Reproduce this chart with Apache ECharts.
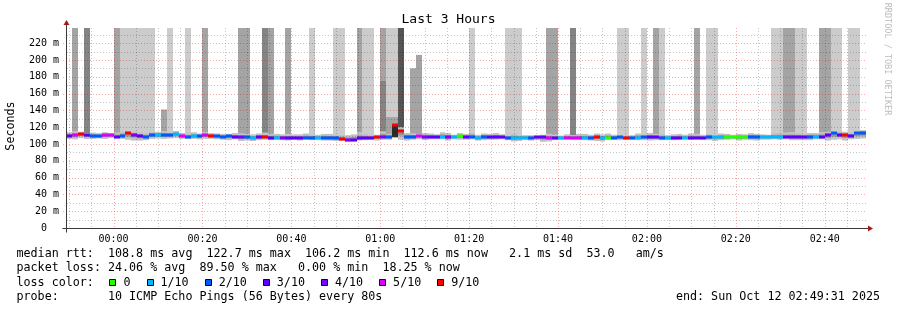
<!DOCTYPE html>
<html><head><meta charset="utf-8">
<script src="https://cdn.jsdelivr.net/npm/echarts@6/dist/echarts.min.js"></script>
<style>html,body{margin:0;padding:0;background:#fff}#c{width:897px;height:310px}</style>
</head><body><div id="c"></div>
<script>
// ---------- data ----------
const title = 'Last 3 Hours';
const yName = 'Seconds';
const tickLabels = ['00:00','00:20','00:40','01:00','01:20','01:40','02:00','02:20','02:40'];
const tickMinutes = [20, 40, 60, 80, 100, 120, 140, 160, 180]; // minutes after 23:40
const rangeStartMin = 9 + 31 / 60;   // 23:49:31
const rangeEndMin = rangeStartMin + 180; // 02:49:31
const firstStepMin = 9 + 20 / 60;    // first 80 s step start
const stepMin = 80 / 60;
const yMax = 238;

// median rtt per step (ms)
const median = [
  110, 110.5, 112, 110.2, 109.2, 109, 110.5, 110.3, 108.8, 109.6, 112.5, 111.2, 109.6, 108.6, 110.4,
  111, 110.5, 110.6, 111.5, 109.6, 108.2, 109, 109.2, 110.5, 110, 109, 108.8, 109, 108.4, 108, 108.2, 107.4, 108,
  108, 107.6, 107.4, 107.2, 107, 107.1, 106.8, 107.2, 107.6, 107.4, 107.5, 107, 106.8, 106, 105, 105.2, 106.6, 107, 107.2, 108, 108.6, 108.4, 122.5, 115, 108.7, 108.6, 109.5, 108.7, 108.4, 108.5, 108.8, 108.4, 108.6, 109, 108.5,
  108.7, 107.2, 108.5, 108, 108.2, 107.9, 107.6, 107.3, 107.5, 107.4, 107.6, 107.8, 107.7, 107.4, 107.6, 107.2, 107.5, 107.6, 107.4, 107.2, 107.6, 107.8, 107.2, 107.5, 107.6, 107.7, 107.4, 107.3, 107.6, 107.8, 107.9, 107.8, 107.5,
  107, 107.4, 107.6, 107.3, 107.5, 107.6, 107.4, 108, 108.1, 107.8, 107.7, 108, 108.2, 108.1, 108.3, 108.5, 108.4, 108.6, 108.5, 108.4, 108.6, 108.3, 108.6, 108.4, 108.7, 108.8, 108.6, 110.5, 112.5, 111, 110.4, 109.5, 112.5, 113.2
];
// lost pings (of 10) per step
const loss = [
  3, 5, 9, 3, 2, 2, 5, 5, 3, 2, 9, 4, 3, 2, 2,
  1, 2, 2, 1, 5, 2, 1, 2, 5, 9, 2, 2, 2, 3, 4, 2, 1, 3,
  9, 3, 1, 4, 3, 3, 3, 2, 2, 1, 2, 2, 2, 9, 4, 3, 3, 3, 3, 9, 4, 2, 9, 9, 2, 2, 5, 4, 3, 3, 1, 4, 1, 0, 3,
  2, 1, 2, 3, 3, 3, 2, 1, 1, 1, 2, 3, 3, 5, 3, 1, 5, 5, 5, 1, 2, 9, 1, 0, 2, 2, 9, 2, 1, 2, 3, 3, 2,
  1, 3, 3, 1, 3, 3, 3, 2, 1, 1, 0, 0, 0, 0, 2, 2, 1, 1, 1, 1, 3, 3, 3, 3, 2, 1, 3, 3, 2, 3, 9, 3, 2, 2
];
// smoke band (lowest / highest ping near the median, ms)
const smokeLo = [
  106, 105.5, 107, 106, 106, 106.5, 106, 107, 106.5, 106, 105, 104, 104, 104.5, 106,
  106.5, 106, 106.5, 107, 106, 106, 106, 105.5, 106, 106, 105.5, 105, 104.5, 105.5, 103.5, 104, 103.5, 104.5,
  105, 104.5, 105, 104.5, 104, 105, 104, 105.5, 104.5, 104.5, 104, 104, 103.5, 103.5, 102.5, 103, 104, 104.5, 105, 104, 105, 105, 108, 105, 104, 105, 105.5, 104.5, 105.5, 105.5, 105.5, 104, 105.5, 105, 105,
  105.5, 104, 104.5, 105, 105, 105.5, 104.5, 103, 103.5, 105, 104, 104.5, 102.5, 103, 104.5, 105, 105.5, 105, 105, 104.5, 104, 103.5, 103, 105, 105, 104.5, 105, 105, 104.5, 104.5, 104, 104.5, 104.5,
  104.5, 104.5, 105, 105.5, 105, 105.5, 105, 104.5, 103.5, 104.5, 105, 105.5, 104, 105, 104.5, 104, 105, 105, 105.5, 105, 105.5, 104.5, 104.5, 104.5, 104.5, 105.5, 105.5, 104, 105, 105.5, 104, 105.5, 106, 106.5
];
const smokeHi = [
  114, 115, 114.5, 113, 113.5, 113, 114, 113, 113.5, 115, 116, 115, 114, 113, 115,
  114.5, 115, 114, 115.5, 113, 113, 114, 112.5, 114, 113, 112.5, 112, 112, 113, 112.5, 112, 111.5, 112.5,
  113.5, 112, 112, 111.5, 112, 111.5, 111.5, 112.5, 111.5, 111, 112, 112, 111.5, 111, 110.5, 111.5, 114, 112.5, 111.5, 111, 115, 112, 109, 120, 113, 112.5, 112, 113, 112.5, 111.5, 114, 113, 111, 113, 112,
  113.5, 111, 112.5, 112, 113, 111.5, 110.5, 112.5, 111, 110.5, 110.5, 110, 111, 112, 111, 110, 111.5, 110.5, 112, 112, 111, 112.5, 111.5, 112.5, 111, 111, 110.5, 110.5, 112.5, 111.5, 113, 112, 112,
  110.5, 111.5, 112, 111, 112.5, 112, 111, 112, 111, 112.5, 112, 111, 112, 111.5, 113, 112, 111.5, 111, 113, 113.5, 113.5, 114, 113, 112, 113, 113, 114, 114.5, 115, 115.5, 114.5, 114, 116, 116.5
];
// outlier smoke: [step, top ms, number of pings, optional bottom ms]
const spikes = [
  [1,240,2],[3,240,3],[8,240,2],[9,240,1],[10,240,1],[11,240,1],[12,240,1],[13,240,1],[14,240,1],
  [16,141,2],[17,240,1],[20,240,1],[23,240,2],[29,240,2],[30,240,2],[33,240,3],[34,240,2],[37,240,2],
  [41,240,1],[45,240,1],[46,240,1],[49,240,2],[50,240,1],[51,240,1],
  [53,240,2],[53,175,1],[54,240,1],[54,132,1],[55,240,1],[55,132,1],[55,122,6,108],[56,240,5],
  [58,190,2],[59,206,2],[68,240,1],[74,240,1],[75,240,1],[76,240,1],[81,240,2],[82,240,2],[85,240,3],
  [93,240,1],[94,240,1],[97,240,1],[99,240,2],[100,240,1],[106,240,2],[108,240,1],[109,240,1],
  [119,240,1],[120,240,1],[121,240,2],[122,240,2],[123,240,1],[124,240,1],[127,240,2],[128,240,2],
  [129,240,1],[130,240,1],[132,240,1],[133,240,1]
];
const lossColors = {0:'#26ff00',1:'#00b8ff',2:'#0059ff',3:'#5e00ff',4:'#7e00ff',5:'#dd00ff',6:'#dd00ff',7:'#ff0000',8:'#ff0000',9:'#ff0000',10:'#ff0000'};
const lossLegend = [['0','#26ff00'],['1/10','#00b8ff'],['2/10','#0059ff'],['3/10','#5e00ff'],['4/10','#7e00ff'],['5/10','#dd00ff'],['9/10','#ff0000']];
const statsLines = [
  'median rtt:  108.8 ms avg  122.7 ms max  106.2 ms min  112.6 ms now   2.1 ms sd  53.0   am/s',
  'packet loss: 24.06 % avg  89.50 % max   0.00 % min  18.25 % now'
];
const lossLabel = 'loss color:';
const probeLine = 'probe:       10 ICMP Echo Pings (56 Bytes) every 80s';
const endLine = 'end: Sun Oct 12 02:49:31 2025';
const credit = 'RRDTOOL / TOBI OETIKER';

// ---------- chart ----------
const MONO = "'DejaVu Sans Mono', monospace";
const chart = echarts.init(document.getElementById('c'), null, {renderer: 'canvas'});

function stepRect(api, k, v0, v1) {
  const t0 = Math.max(firstStepMin + k * stepMin, rangeStartMin);
  const t1 = Math.min(firstStepMin + (k + 1) * stepMin, rangeEndMin);
  if (t1 <= t0) return null;
  const a = api.coord([t0, Math.min(Math.max(v0, v1), yMax)]);
  const b = api.coord([t1, Math.max(Math.min(v0, v1), 0)]);
  const x0 = Math.round(a[0]), x1 = Math.round(b[0]);
  return {x: x0, y: a[1], width: x1 - x0, height: b[1] - a[1]};
}
const SMOKE = 'rgba(0,0,0,0.2)';
const SMOKE_BAND = 'rgba(0,0,0,0.24)';

const stepIdx = median.map((v, i) => [i]);

const option = {
  animation: false,
  grid: {left: 67, right: 30, top: 28, bottom: 82, containLabel: false},
  xAxis: {
    type: 'value', min: rangeStartMin, max: rangeEndMin,
    axisLine: {show: false}, axisTick: {show: false}, splitLine: {show: false},
    axisLabel: {
      customValues: tickMinutes,
      formatter: v => { let best = 0; tickMinutes.forEach((m, i) => { if (Math.abs(m - v) < Math.abs(tickMinutes[best] - v)) best = i; }); return tickLabels[best]; },
      fontFamily: MONO, fontSize: 10, color: '#000', margin: 6
    }
  },
  yAxis: {
    type: 'value', min: 0, max: yMax, interval: 20,
    axisLine: {show: false}, axisTick: {show: false}, splitLine: {show: false},
    axisLabel: {
      formatter: v => v > 230 ? '' : (v === 0 ? '0  ' : v + ' m'),
      fontFamily: MONO, fontSize: 10, color: '#000', margin: 8
    }
  },
  series: [
    { // near-median smoke
      type: 'custom', z: 2, silent: true, data: stepIdx,
      renderItem: (p, api) => {
        const k = p.dataIndex;
        const outer = stepRect(api, k, smokeLo[k], smokeHi[k]);
        const inner = stepRect(api, k, (smokeLo[k] + median[k]) / 2, (smokeHi[k] + median[k]) / 2);
        const ch = [];
        if (outer) ch.push({type: 'rect', shape: outer, style: {fill: SMOKE_BAND}});
        if (inner) ch.push({type: 'rect', shape: inner, style: {fill: SMOKE_BAND}});
        return {type: 'group', children: ch};
      }
    },
    { // outlier smoke
      type: 'custom', z: 3, silent: true, data: spikes.map((s, i) => [i]),
      renderItem: (p, api) => {
        const s = spikes[p.dataIndex];
        const k = s[0], top = s[1], n = s[2];
        const base = s.length > 3 ? s[3] : smokeHi[k];
        const r = stepRect(api, k, base, top);
        const ch = [];
        if (r) for (let j = 0; j < n; j++) ch.push({type: 'rect', shape: r, style: {fill: SMOKE}});
        return {type: 'group', children: ch};
      }
    },
    { // grid
      type: 'custom', z: 4, silent: true, data: [[0]],
      renderItem: (p, api) => {
        const ch = [];
        const left = api.coord([rangeStartMin, 0])[0];
        const right = api.coord([rangeEndMin, 0])[0];
        const top = api.coord([rangeStartMin, yMax])[1];
        const bottom = api.coord([rangeStartMin, 0])[1];
        for (let v = 10; v < yMax; v += 10) {
          const y = Math.round(api.coord([rangeStartMin, v])[1]) + 0.5;
          const major = v % 20 === 0;
          ch.push({type: 'line', shape: {x1: major ? left - 4 : left, y1: y, x2: right, y2: y},
            style: {stroke: major ? 'rgba(225,0,0,0.33)' : 'rgba(0,0,0,0.22)', lineWidth: 1, lineDash: [1, 2]}});
        }
        for (let m = Math.ceil(rangeStartMin / 5) * 5; m <= rangeEndMin; m += 5) {
          const x = Math.round(api.coord([m, 0])[0]) + 0.5;
          const major = m % 20 === 0;
          ch.push({type: 'line', shape: {x1: x, y1: top, x2: x, y2: bottom},
            style: {stroke: major ? 'rgba(225,0,0,0.33)' : 'rgba(0,0,0,0.22)', lineWidth: 1, lineDash: [1, 2]}});
        }
        return {type: 'group', children: ch};
      }
    },
    { // median coloured by loss
      type: 'custom', z: 6, silent: true, data: stepIdx,
      renderItem: (p, api) => {
        const k = p.dataIndex;
        const r = stepRect(api, k, median[k], median[k]);
        if (!r) return null;
        const yc = Math.round(r.y);
        return {type: 'rect', shape: {x: r.x, y: yc - 1.5, width: r.width, height: 3},
          style: {fill: lossColors[loss[k]]}};
      }
    }
  ]
};
chart.setOption(option);

// ---------- axes, arrows and texts ----------
const p00 = chart.convertToPixel({gridIndex: 0}, [rangeStartMin, 0]);
const p11 = chart.convertToPixel({gridIndex: 0}, [rangeEndMin, yMax]);
const ax = Math.round(p00[0]) - 0.5, ay = Math.round(p00[1]) + 0.5;
const AXIS = '#3a3a3a', ARROW = '#a01c1c';
const ctx = document.createElement('canvas').getContext('2d');
ctx.font = '11.7px ' + MONO;
const cw = ctx.measureText('0000000000').width / 10;
const txtX = 16.5;
const lineY = [254, 268, 282.5, 297];
const g = [
  {type: 'line', shape: {x1: ax - 4, y1: ay, x2: p11[0] + 2, y2: ay}, style: {stroke: AXIS, lineWidth: 1}},
  {type: 'line', shape: {x1: ax, y1: ay + 4, x2: ax, y2: p11[1] - 4}, style: {stroke: AXIS, lineWidth: 1}},
  {type: 'polygon', shape: {points: [[p11[0] + 1, ay - 3], [p11[0] + 6, ay], [p11[0] + 1, ay + 3]]}, style: {fill: ARROW}},
  {type: 'polygon', shape: {points: [[ax - 3, p11[1] - 3], [ax, p11[1] - 8], [ax + 3, p11[1] - 3]]}, style: {fill: ARROW}},
  {type: 'text', x: 448.5, y: 20, style: {text: title, font: '13px ' + MONO, fill: '#000', textAlign: 'center', textVerticalAlign: 'middle'}},
  {type: 'text', x: 11, y: 126, rotation: Math.PI / 2, style: {text: yName, font: '11.7px ' + MONO, fill: '#000', textAlign: 'center', textVerticalAlign: 'middle'}},
  {type: 'text', x: 887, y: 59, rotation: -Math.PI / 2, style: {text: credit, font: '8.5px ' + MONO, fill: '#bdbdbd', textAlign: 'center', textVerticalAlign: 'middle'}},
  {type: 'text', x: txtX, y: lineY[0], style: {text: statsLines[0], font: '11.7px ' + MONO, fill: '#000', textAlign: 'left', textVerticalAlign: 'middle'}},
  {type: 'text', x: txtX, y: lineY[1], style: {text: statsLines[1], font: '11.7px ' + MONO, fill: '#000', textAlign: 'left', textVerticalAlign: 'middle'}},
  {type: 'text', x: txtX, y: lineY[2], style: {text: lossLabel, font: '11.7px ' + MONO, fill: '#000', textAlign: 'left', textVerticalAlign: 'middle'}},
  {type: 'text', x: txtX, y: lineY[3], style: {text: probeLine, font: '11.7px ' + MONO, fill: '#000', textAlign: 'left', textVerticalAlign: 'middle'}},
  {type: 'text', x: 880, y: lineY[3], style: {text: endLine, font: '11.7px ' + MONO, fill: '#000', textAlign: 'right', textVerticalAlign: 'middle'}}
];
let bx = txtX + 13 * cw + 1.5;
lossLegend.forEach(([lab, col]) => {
  g.push({type: 'rect', shape: {x: Math.round(bx) + 0.5, y: 279.5, width: 6, height: 6}, style: {fill: col, stroke: '#000', lineWidth: 1}});
  const lx = bx + 14;
  g.push({type: 'text', x: lx, y: lineY[2], style: {text: lab, font: '11.7px ' + MONO, fill: '#000', textAlign: 'left', textVerticalAlign: 'middle'}});
  bx = lx + lab.length * cw + 16;
});
chart.setOption({graphic: {elements: g}});
</script>
</body></html>
